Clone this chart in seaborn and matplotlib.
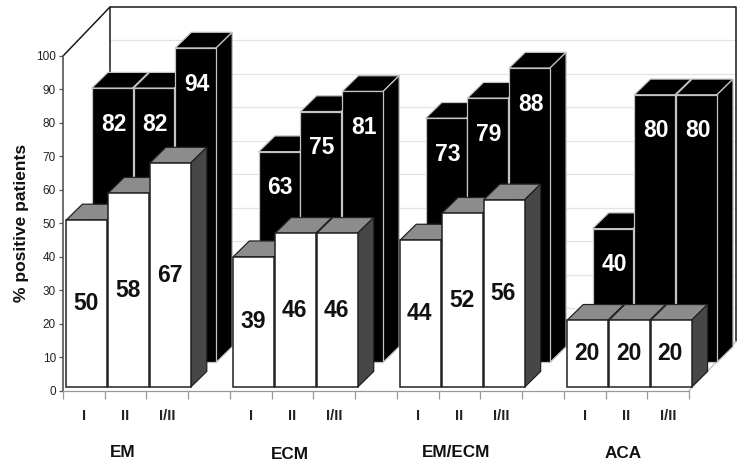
import numpy as np
import pandas as pd
import matplotlib.pyplot as plt
import seaborn as sns
from matplotlib.patches import Polygon

groups = ['EM', 'ECM', 'EM/ECM', 'ACA']
stages = ['I', 'II', 'I/II']
igm_values = [50, 58, 67, 39, 46, 46, 44, 52, 56, 20, 20, 20]
igg_values = [82, 82, 94, 63, 75, 81, 73, 79, 88, 40, 80, 80]
y_ticks = [0, 10, 20, 30, 40, 50, 60, 70, 80, 90, 100]
slots = [0, 1, 2, 4, 5, 6, 8, 9, 10, 12, 13, 14]

sns.set_style('white')
plt.rcParams['font.family'] = ['Liberation Sans', 'DejaVu Sans']

fig = plt.figure(figsize=(7.44, 4.65), dpi=100)
ax = fig.add_axes([63 / 744, (465 - 390.5) / 465, 626 / 744, 334.5 / 465])

# depth of the fake 3d box and of one bar, in data units
wall_dx, wall_dy = 1.126, 14.65
bar_dx, bar_dy = 0.385, 4.7
row_shift = 0.61
front_shift = 0.07
back_base = 8.4


def add_depth(bar, z, top_col, side_col, edge):
    x0, y0 = bar.get_x(), bar.get_y()
    x1, y1 = x0 + bar.get_width(), y0 + bar.get_height()
    top = Polygon([(x0, y1), (x1, y1), (x1 + bar_dx, y1 + bar_dy), (x0 + bar_dx, y1 + bar_dy)],
                  facecolor=top_col, edgecolor=edge, linewidth=0.9, zorder=z, clip_on=False)
    side = Polygon([(x1, y0), (x1, y1), (x1 + bar_dx, y1 + bar_dy), (x1 + bar_dx, y0 + bar_dy)],
                   facecolor=side_col, edgecolor=edge, linewidth=0.9, zorder=z, clip_on=False)
    ax.add_patch(top)
    ax.add_patch(side)
    bar.set_zorder(z + 0.5)
    bar.set_clip_on(False)


back = pd.DataFrame({'pos': np.array(slots) + front_shift + row_shift, 'pct': igg_values})
front = pd.DataFrame({'pos': np.array(slots) + front_shift, 'pct': igm_values})
sns.barplot(data=back, x='pos', y='pct', native_scale=True, width=0.98, color='black', saturation=1,
            edgecolor='#c4c4c4', linewidth=0.9, bottom=back_base, errorbar=None, ax=ax)
n_back = len(ax.patches)
sns.barplot(data=front, x='pos', y='pct', native_scale=True, width=0.98, color='white', saturation=1,
            edgecolor='#222222', linewidth=1.1, bottom=1, errorbar=None, ax=ax)
bars = list(ax.patches)

for i, bar in enumerate(bars[:n_back]):
    add_depth(bar, 3 + i, 'black', 'black', '#c4c4c4')
    ax.text(bar.get_x() + bar.get_width() / 2 + 0.03, bar.get_y() + bar.get_height() - 10.8, str(igg_values[i]),
            color='white', fontsize=16.5, fontweight='bold', ha='center', va='center', zorder=20)
for i, bar in enumerate(bars[n_back:]):
    add_depth(bar, 30 + i, '#8c8c8c', '#474747', '#222222')
    ax.text(bar.get_x() + bar.get_width() / 2 - 0.02, bar.get_y() + bar.get_height() / 2, str(igm_values[i]),
            color='#111111', fontsize=16.5, fontweight='bold', ha='center', va='center', zorder=60)

ax.set_xlim(-0.5, 14.5)
ax.set_ylim(0, 100)

# back wall
x_left, x_right = -0.5, 14.5
for v in y_ticks[:-1]:
    ax.plot([x_left + wall_dx, x_right + wall_dx], [v + wall_dy] * 2, color='#e4e4e4', lw=0.9, zorder=1, clip_on=False)
ax.plot([x_left + wall_dx, x_left + wall_dx, x_right + wall_dx, x_right + wall_dx],
        [wall_dy, 100 + wall_dy, 100 + wall_dy, wall_dy], color='#1a1a1a', lw=1.1, zorder=2, clip_on=False)
ax.plot([x_left, x_left + wall_dx], [100, 100 + wall_dy], color='#1a1a1a', lw=1.1, zorder=2, clip_on=False)
ax.plot([x_right, x_right + wall_dx], [0, wall_dy], color='#bdbdbd', lw=0.9, zorder=2, clip_on=False)

ax.set_xlabel('')
ax.set_ylabel('% positive patients', fontsize=12.5, fontweight='bold', labelpad=5, color='#111111')
ax.set_yticks(y_ticks)
ax.tick_params(axis='y', length=3, width=0.9, color='#555555', labelsize=8.5, labelcolor='#222222', pad=2, left=True)

ax.set_xticks(slots)
ax.set_xticklabels(stages * 4, fontsize=10.5, fontweight='bold', color='#222222')
ax.set_xticks(np.arange(-0.5, 15), minor=True)
ax.tick_params(axis='x', which='major', length=0, pad=13)
ax.tick_params(axis='x', which='minor', length=6, width=0.9, color='#999999', bottom=True)

group_y = [-18.4, -19, -18.4, -18.7]
for i, name in enumerate(groups):
    ax.text(slots[3 * i + 1] - 0.07, group_y[i], name, fontsize=12.3, fontweight='bold', color='#111111',
            ha='center', va='center', clip_on=False)

ax.spines['top'].set_visible(False)
ax.spines['right'].set_visible(False)
ax.spines['left'].set_color('#555555')
ax.spines['left'].set_linewidth(1.2)
ax.spines['bottom'].set_color('#999999')
ax.spines['bottom'].set_linewidth(0.9)

fig.savefig('out.png', dpi=100)
